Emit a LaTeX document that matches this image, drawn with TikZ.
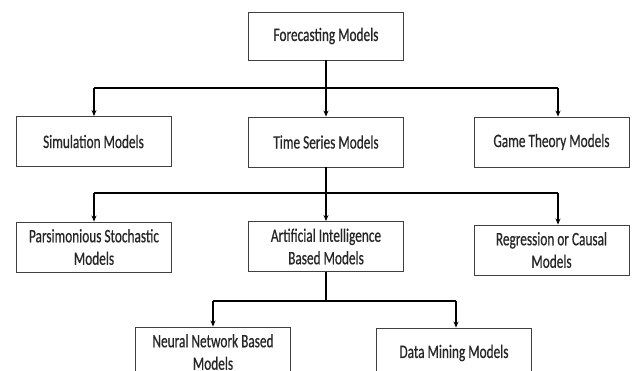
\documentclass[tikz,border=0pt]{standalone}
\usepackage{fontspec}
\newfontfamily\boxfont[FakeStretch=0.7, FakeBold=0.6]{Carlito}
\usetikzlibrary{arrows.meta}

\begin{document}
\begin{tikzpicture}[x=1pt, y=-1pt]
    % ==========================
    % 設定
    % ==========================
    \def\bw{155} % 箱の幅
    \def\bh{50}  % 箱の高さ
    \tikzset{
        box/.style={draw=black!75, line width=0.9pt, minimum width=\bw pt,
            minimum height=\bh pt, inner sep=0pt, align=center,
            font=\boxfont\fontsize{19}{22.5}\selectfont, text=black!85}, % 箱のスタイル
        bus/.style={line width=2.4pt}, % 横線
        link/.style={line width=1.1pt, -{Stealth[length=6pt, width=5pt]}} % 矢印
    }
    \useasboundingbox (0,0) rectangle (635,371);
    \clip (0,0) rectangle (635,371);

    % ==========================
    % 1. 最上段
    % ==========================
    \node[box, minimum height=48pt] (root) at (326, 36) {Forecasting Models};

    % ==========================
    % 2. 二段目
    % ==========================
    \node[box] (sim)  at (93.5, 141.5) {Simulation Models};
    \node[box] (ts)   at (326, 142)    {Time Series Models};
    \node[box] (game) at (551.5, 142)  {Game Theory Models};

    \coordinate (b1l) at (94, 88);  % 横線 左端
    \coordinate (b1r) at (558, 88); % 横線 右端
    \draw[bus] (b1l) -- (b1r);
    \draw[link] (root.south) -- (ts.north);
    \draw[link] (b1l) -- (b1l |- sim.north);
    \draw[link] (b1r) -- (b1r |- game.north);

    % ==========================
    % 3. 三段目
    % ==========================
    \node[box] (pars) at (94, 247)    {Parsimonious Stochastic\\Models};
    \node[box] (ai)   at (326, 246.5) {Artificial Intelligence\\Based Models};
    \node[box] (reg)  at (551.5, 250) {Regression or Causal\\Models};

    \coordinate (b2l) at (94, 193);
    \coordinate (b2r) at (558, 193);
    \draw[bus] (b2l) -- (b2r);
    \draw[link] (ts.south) -- (ai.north);
    \draw[link] (b2l) -- (b2l |- pars.north);
    \draw[link] (b2r) -- (b2r |- reg.north);

    % ==========================
    % 4. 最下段 (下端で切れる)
    % ==========================
    \node[box] (nn) at (213, 352) {Neural Network Based\\Models};
    \node[box] (dm) at (454, 353) {Data Mining Models};

    \coordinate (b3l) at (213, 301);
    \coordinate (b3r) at (456, 301);
    \draw[bus] (b3l) -- (b3r);
    \draw[line width=1.1pt] (ai.south) -- (ai.south |- b3l);
    \draw[link] (b3l) -- (b3l |- nn.north);
    \draw[link] (b3r) -- (b3r |- dm.north);

\end{tikzpicture}
\end{document}
